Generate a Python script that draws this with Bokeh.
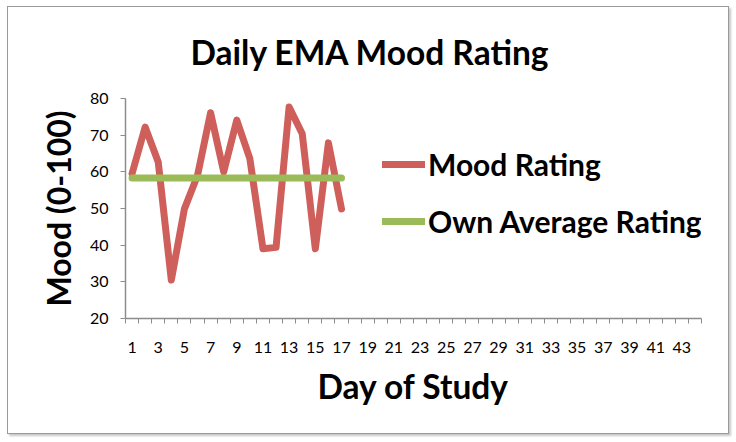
from bokeh.plotting import figure
from bokeh.models import Range1d, FixedTicker, Legend, LegendItem
from bokeh.embed import file_html
from bokeh.resources import INLINE

# ---- data ----
days = list(range(1, 18))
mood = [59.5, 72.2, 62.7, 30.5, 49.9, 59.0, 76.1, 60.0, 74.1, 63.6,
        39.0, 39.4, 77.7, 70.4, 39.0, 67.9, 49.9]
own_average = [58.3] * 17
x_tick_labels = list(range(1, 45, 2))
x_boundaries = [d + 0.5 for d in range(0, 45)]
y_ticks = [20, 30, 40, 50, 60, 70, 80]
title_text = "Daily EMA Mood Rating"

FONT = "Lato"
RED = "#CF5F5A"
GREEN = "#9BBB59"
AXIS = "#8C8C8C"

p = figure(width=722, height=428, output_backend="svg", toolbar_location=None,
           x_range=Range1d(0.5, 44.5), y_range=Range1d(20, 80),
           min_border_left=117, min_border_right=29, min_border_top=91,
           min_border_bottom=117)
p.margin = (6, 0, 0, 7)
p.styles = {"border": "1px solid #9a9a9a", "box-shadow": "2px 2px 2px #c8c8c8"}

p.title.text = title_text
p.title.align = "left"
p.title.offset = 65
p.title.vertical_align = "top"
p.title.standoff = 49
p.title.text_font = FONT
p.title.text_font_size = "33.5px"
p.title.text_font_style = "bold"
p.title.text_color = "black"

p.outline_line_color = None
p.xgrid.visible = False
p.ygrid.visible = False

r1 = p.line(days, mood, line_color=RED, line_width=7, line_join="round", line_cap="round")
r2 = p.line(days, own_average, line_color=GREEN, line_width=7, line_join="round", line_cap="round")

xa = p.xaxis[0]
xa.ticker = FixedTicker(ticks=x_tick_labels, minor_ticks=x_boundaries)
xa.major_tick_out = 0
xa.major_tick_in = 0
xa.minor_tick_out = 5
xa.minor_tick_in = 0
xa.minor_tick_line_color = AXIS
xa.axis_line_color = AXIS
xa.axis_line_width = 1.5
xa.major_label_text_font = FONT
xa.major_label_text_font_size = "16px"
xa.major_label_text_color = "black"
xa.major_label_standoff = 18
xa.axis_label = "Day of Study"
xa.axis_label_text_font = FONT
xa.axis_label_text_font_size = "33.5px"
xa.axis_label_text_font_style = "bold"
xa.axis_label_text_color = "black"
xa.axis_label_standoff = 10

ya = p.yaxis[0]
ya.ticker = FixedTicker(ticks=y_ticks)
ya.major_tick_out = 5
ya.major_tick_in = 0
ya.minor_tick_out = 0
ya.minor_tick_in = 0
ya.major_tick_line_color = AXIS
ya.axis_line_color = AXIS
ya.axis_line_width = 1.5
ya.major_label_text_font = FONT
ya.major_label_text_font_size = "16px"
ya.major_label_text_color = "black"
ya.major_label_standoff = 12
ya.axis_label = "Mood (0-100)"
ya.axis_label_text_font = FONT
ya.axis_label_text_font_size = "32px"
ya.axis_label_text_font_style = "bold"
ya.axis_label_text_color = "black"
ya.axis_label_standoff = 9

legend = Legend(items=[LegendItem(label="Mood Rating", renderers=[r1]),
                       LegendItem(label="Own Average Rating", renderers=[r2])],
                location=(257, 79), orientation="vertical",
                label_text_font=FONT, label_text_font_size="30px",
                label_text_font_style="bold", label_text_color="black",
                glyph_width=43, glyph_height=30, label_standoff=3,
                spacing=21, padding=0, margin=0,
                border_line_alpha=0, background_fill_alpha=0)
p.add_layout(legend)

open("out.html", "w").write(file_html(p, INLINE))
